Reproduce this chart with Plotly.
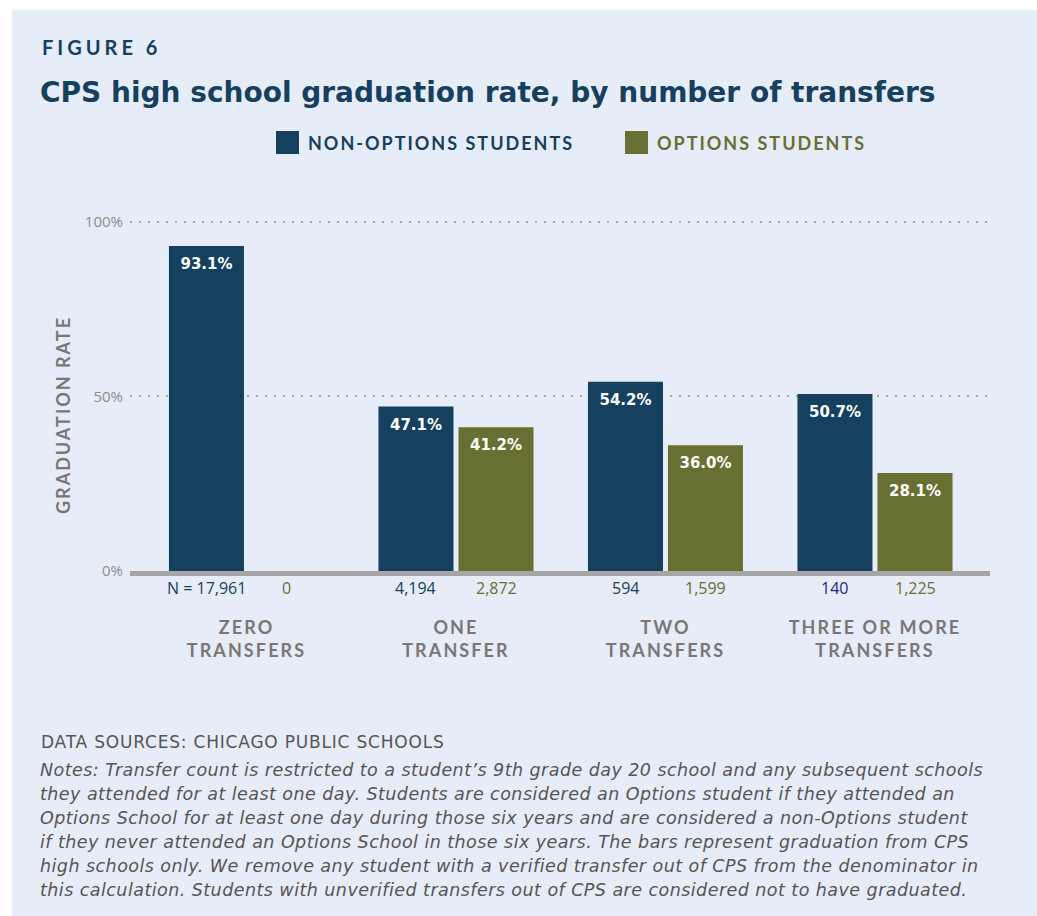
import json
import plotly.graph_objects as go

# ---- data ----
categories = ["ZERO TRANSFERS", "ONE TRANSFER", "TWO TRANSFERS", "THREE OR MORE TRANSFERS"]
tick_labels = ["ZERO<br>TRANSFERS", "ONE<br>TRANSFER", "TWO<br>TRANSFERS", "THREE OR MORE<br>TRANSFERS"]
non_options_rate = [93.1, 47.1, 54.2, 50.7]
options_rate = [None, 41.2, 36.0, 28.1]
non_options_n = ["N = 17,961", "4,194", "594", "140"]
options_n = ["0", "2,872", "1,599", "1,225"]
y_ticks = [0, 50, 100]
y_tick_text = ["0%", "50%", "100%"]

NAVY = "#15405E"
OLIVE = "#686F33"
BG = "#E6ECF8"
GRAY_LBL = "#7A7675"
GRAY_TICK = "#8C8C8C"
NOTE = "#555555"

W, H = 1037, 916
ML, MR, MT, MB = 130, 47, 215, 345
PW, PH = W - ML - MR, H - MT - MB


def px(xp):
    return (xp - ML) / PW


def py(yp):
    return (H - MB - yp) / PH


BARGAP = 0.236
GROUPGAP = 0.0625

fig = go.Figure()
for vals, name, col in [(non_options_rate, "NON-OPTIONS STUDENTS", NAVY),
                        (options_rate, "OPTIONS STUDENTS", OLIVE)]:
    fig.add_trace(go.Bar(
        x=categories, y=vals, name=name,
        marker=dict(color=col, line=dict(width=0)),
        texttemplate="%{y:.1f}%", textposition="inside", insidetextanchor="end",
        textfont=dict(family="DejaVu Sans", size=15, color="white", weight="bold"),
        textangle=0, constraintext="none", cliponaxis=False,
    ))

annotations = []
shapes = []

# background panel
shapes.append(dict(type="rect", xref="paper", yref="paper", x0=px(12), x1=px(W + 5),
                   y0=py(H + 5), y1=py(10), fillcolor=BG, line=dict(width=0), layer="below"))

# N labels under bars
off = (1 - BARGAP) / 4
n_colors_non = [NAVY, NAVY, NAVY, "#24248A"]
for i, (a, b) in enumerate(zip(non_options_n, options_n)):
    annotations.append(dict(x=i - off, y=0, xref="x", yref="y", text=a, showarrow=False,
                            yshift=-17, font=dict(family="Open Sans", size=16, color=n_colors_non[i])))
    annotations.append(dict(x=i + off, y=0, xref="x", yref="y", text=b, showarrow=False,
                            yshift=-17, font=dict(family="Open Sans", size=16, color=OLIVE)))

# FIGURE 6
annotations.append(dict(x=px(40), y=py(47), xref="paper", yref="paper", xanchor="left", yanchor="middle",
                        align="left", text="FIGURE 6", showarrow=False,
                        font=dict(family="Lato", size=20, color=NAVY, weight="bold")))

# legend
leg = [("NON-OPTIONS STUDENTS", NAVY, 276, 307), ("OPTIONS STUDENTS", OLIVE, 625, 656)]
for label, col, sx, tx in leg:
    shapes.append(dict(type="rect", xref="paper", yref="paper", x0=px(sx), x1=px(sx + 23),
                       y0=py(154), y1=py(131), fillcolor=col, line=dict(width=0)))
    annotations.append(dict(x=px(tx - 1), y=py(143), xref="paper", yref="paper", xanchor="left",
                            yanchor="middle", align="left", text=label, showarrow=False,
                            font=dict(family="Lato", size=18, color=col, weight="bold")))

# y-axis title
annotations.append(dict(x=px(63), y=py(415), xref="paper", yref="paper", xanchor="center",
                        yanchor="middle", text="GRADUATION RATE", textangle=-90, showarrow=False,
                        font=dict(family="Lato", size=18, color=GRAY_LBL, weight="bold")))

# sources & notes
source_text = "DATA SOURCES: CHICAGO PUBLIC SCHOOLS"
annotations.append(dict(x=px(39), y=py(742), xref="paper", yref="paper", xanchor="left", yanchor="middle",
                        align="left", text=source_text, showarrow=False,
                        font=dict(family="DejaVu Sans", size=17, color=NOTE)))
note_lines = [
    "Notes: Transfer count is restricted to a student’s 9th grade day 20 school and any subsequent schools",
    "they attended for at least one day. Students are considered an Options student if they attended an",
    "Options School for at least one day during those six years and are considered a non-Options student",
    "if they never attended an Options School in those six years. The bars represent graduation from CPS",
    "high schools only. We remove any student with a verified transfer out of CPS from the denominator in",
    "this calculation. Students with unverified transfers out of CPS are considered not to have graduated.",
]
for k, line in enumerate(note_lines):
    annotations.append(dict(x=px(38), y=py(770 + 24 * k), xref="paper", yref="paper", xanchor="left",
                            yanchor="middle", align="left", text=line, showarrow=False,
                            font=dict(family="DejaVu Sans", size=17.5, color=NOTE, style="italic")))

fig.update_layout(
    width=W, height=H,
    margin=dict(l=ML, r=MR, t=MT, b=MB),
    paper_bgcolor="white", plot_bgcolor="rgba(0,0,0,0)",
    barmode="group", bargap=BARGAP, bargroupgap=GROUPGAP,
    showlegend=False,
    title=dict(text="CPS high school graduation rate, by number of transfers",
               x=40 / W, xref="container", xanchor="left",
               y=1 - 92 / H, yref="container", yanchor="middle",
               font=dict(family="DejaVu Sans", size=28, color=NAVY, weight="bold")),
    xaxis=dict(type="category", range=[-0.556, 3.549], tickmode="array",
               tickvals=categories, ticktext=tick_labels,
               tickfont=dict(family="Lato", size=18, color=GRAY_LBL, weight="bold"),
               ticks="", ticklabelstandoff=36,
               showline=True, linewidth=5, linecolor="#A6A6A6", showgrid=False, zeroline=False),
    yaxis=dict(range=[0, 102], tickmode="array", tickvals=y_ticks, ticktext=y_tick_text,
               tickfont=dict(family="Open Sans", size=15, color=GRAY_TICK),
               showgrid=True, gridcolor="#A8A8A8", gridwidth=2, griddash="2px,7px",
               zeroline=False, showline=False, ticks="", ticklabelstandoff=6),
    annotations=annotations, shapes=shapes,
)

spacing = {"FIGURE 6": "4px", "NON-OPTIONS STUDENTS": "2px", "OPTIONS STUDENTS": "2px",
           "GRADUATION RATE": "2px", source_text: "0.8px"}
for line in note_lines:
    spacing[line] = "0.45px"

post = """
document.body.style.margin='0';
var gd=document.getElementById('{plot_id}');
var sp=%s;
gd.querySelectorAll('.annotation-text').forEach(function(t){var v=sp[t.textContent]; if(v){t.style.letterSpacing=v;}});
gd.querySelectorAll('.xtick text').forEach(function(t){t.style.letterSpacing='2.1px';});
gd.querySelectorAll('text.bartext').forEach(function(t){t.setAttribute('transform',(t.getAttribute('transform')||'')+' translate(0,6)');});
""" % json.dumps(spacing, ensure_ascii=False)
fig.write_html("out.html", post_script=post, config={"displayModeBar": False})
